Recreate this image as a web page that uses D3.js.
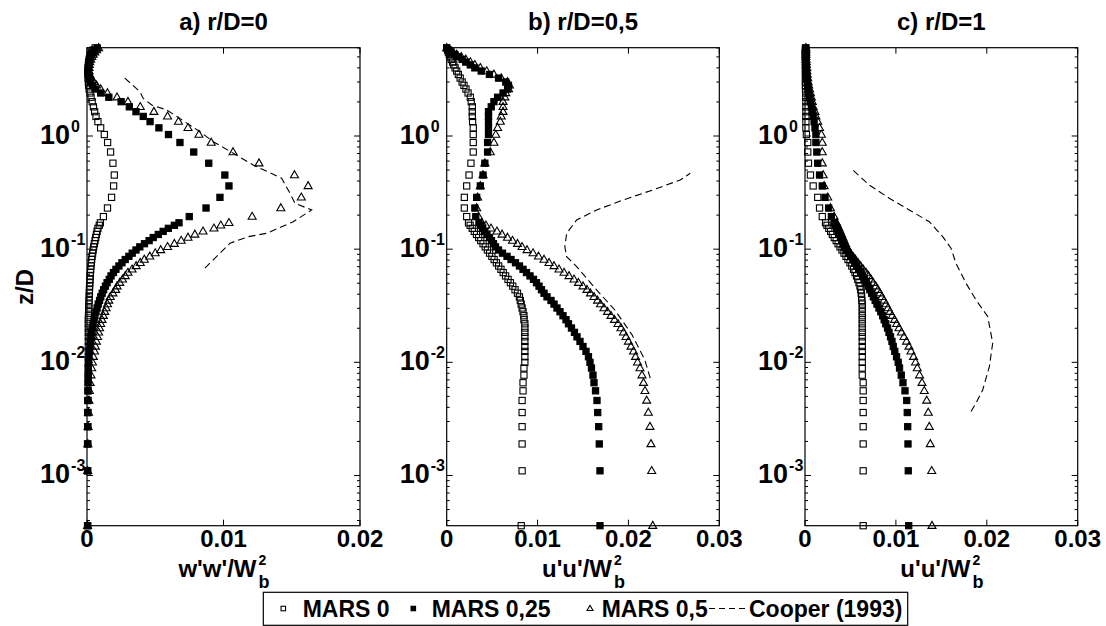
<!DOCTYPE html>
<html><head><meta charset="utf-8">
<script src="https://cdn.jsdelivr.net/npm/d3@7"></script>
<style>
body{margin:0;background:#fff}
svg{display:block}
text{font-family:Arial,"Liberation Sans",Helvetica,sans-serif;font-weight:bold;fill:#000}
</style>
</head><body>
<svg id="chart" width="1106" height="626"></svg>
<script>
// ---------------- DATA ----------------
const panelTitles = ["a) r/D=0", "b) r/D=0,5", "c) r/D=1"];
const xMaxes = [0.02, 0.03, 0.03];
const xTickValues = [[0, 0.01, 0.02], [0, 0.01, 0.02, 0.03], [0, 0.01, 0.02, 0.03]];
const xTickLabels = [["0", "0.01", "0.02"], ["0", "0.01", "0.02", "0.03"], ["0", "0.01", "0.02", "0.03"]];
const xAxisMain = ["w'w'/W", "u'u'/W", "u'u'/W"];
const xAxisSup = "2", xAxisSub = "b";
const yLabel = "z/D";
const yTickExponents = [-3, -2, -1, 0];
const zDomain = [0.00036, 6.03];
const seriesNames = ["MARS 0", "MARS 0,25", "MARS 0,5", "Cooper (1993)"];

// grid levels z/D shared by all MARS profiles (bottom to top)
const zLevels = [0.00036,0.0011,0.0019,0.0027,0.0036,0.0046,0.0056,0.0066,0.0077,0.0089,
0.0100,0.0112,0.0125,0.0138,0.0153,0.0168,0.0184,0.0201,0.0219,0.0238,
0.0258,0.0280,0.0302,0.0327,0.0352,0.0379,0.0408,0.0438,0.0471,0.0505,
0.0541,0.0580,0.0621,0.0664,0.0710,0.0758,0.0810,0.0864,0.0922,0.0983,
0.1048,0.1117,0.1190,0.1267,0.1349,0.1436,0.1528,0.1625,0.171,0.194,
0.231,0.287,0.362,0.452,0.575,0.722,0.876,1.03,1.18,1.34,
1.49,1.64,1.81,2.01,2.2,2.4,2.6,2.8,3.0,3.25,
3.5,3.75,4.0,4.25,4.5,4.75,5.0,5.25,5.5,5.75,
6.0];

// panel a: w'w'/Wb^2 at r/D=0
const a_mars0 = [0.00005,0.00005,0.00006,0.00006,0.00007,0.00007,0.00008,0.00008,0.00008,0.00009,
0.00009,0.0001,0.0001,0.0001,0.0001,0.0001,0.0001,0.0001,0.0001,0.0001,
0.00011,0.00012,0.00013,0.00014,0.00015,0.00016,0.00017,0.00018,0.00019,0.00021,
0.00022,0.00023,0.00025,0.00027,0.00029,0.00032,0.00034,0.00037,0.00041,0.00045,
0.00049,0.00054,0.00059,0.00064,0.00069,0.00074,0.0008,0.0009,0.00098,0.0012,
0.0015,0.0018,0.00195,0.002,0.0019,0.00173,0.00151,0.00127,0.001,0.0008,
0.00066,0.00056,0.00047,0.00038,0.0003,0.00022,0.00016,0.00012,0.0001,0.00008,
0.00007,0.00007,0.00008,0.0001,0.00012,0.00016,0.0002,0.00026,0.00034,0.00045,
0.0006];
const a_mars025 = [0.00004,0.00004,0.00004,0.00005,0.00005,0.00006,0.00007,0.00008,0.00009,0.0001,
0.00012,0.00015,0.00019,0.00022,0.00026,0.00029,0.00034,0.00039,0.00045,0.00052,
0.00058,0.00066,0.00074,0.00082,0.00092,0.00101,0.00111,0.00122,0.00135,0.00147,
0.00163,0.00176,0.00194,0.00212,0.00234,0.00256,0.0028,0.00307,0.00331,0.00359,
0.00387,0.00421,0.00455,0.00485,0.00522,0.00558,0.00596,0.0064,0.00674,0.00749,
0.00872,0.00974,0.0104,0.0101,0.00892,0.00782,0.00681,0.00597,0.00527,0.00462,
0.00412,0.00359,0.0031,0.0025,0.0016,0.001,0.0006,0.0004,0.00025,0.00015,
0.0001,0.0001,0.0001,0.00012,0.00015,0.0002,0.00027,0.00035,0.00045,0.00058,
0.00075];
const a_mars05 = [0.00004,0.00005,0.00006,0.00008,0.00011,0.00014,0.00018,0.00023,0.00029,0.00034,
0.0004,0.00047,0.00055,0.00062,0.00069,0.00077,0.00085,0.00092,0.001,0.0011,
0.0012,0.0013,0.0014,0.0015,0.0016,0.0017,0.0019,0.0021,0.0022,0.0024,
0.0026,0.0028,0.003,0.0033,0.0036,0.0039,0.0042,0.0046,0.005,0.0054,
0.0059,0.0064,0.0069,0.0074,0.0079,0.0085,0.0093,0.0098,0.0104,0.0121,
0.0142,0.0157,0.0162,0.0152,0.0126,0.0107,0.0091,0.0082,0.0074,0.0067,
0.0059,0.0049,0.0039,0.003,0.0022,0.0015,0.001,0.0007,0.0005,0.0003,
0.0002,0.00015,0.00015,0.00017,0.0002,0.00027,0.00035,0.00045,0.00057,0.0007,
0.00085];
const a_cooperZ = [0.068,0.092,0.113,0.129,0.138,0.175,0.222,0.254,0.312,0.423,0.554,0.703,0.891,1.09,1.70,1.88,2.15,2.46,3.34];
const a_cooperV = [0.00864,0.00974,0.01048,0.01182,0.01316,0.01511,0.01646,0.01524,0.01487,0.01426,0.01218,0.01072,0.00925,0.00828,0.00584,0.00474,0.00412,0.00388,0.00266];

// panel b: u'u'/Wb^2 at r/D=0,5
const b_mars0 = [0.0082,0.0083,0.0083,0.0083,0.0083,0.0083,0.0084,0.0084,0.0085,0.0085,
0.0086,0.0086,0.0086,0.0086,0.0086,0.0086,0.0086,0.0086,0.0086,0.0085,
0.0085,0.0084,0.0083,0.0082,0.0081,0.008,0.00779,0.00752,0.00727,0.00701,
0.00675,0.00648,0.00622,0.00597,0.00572,0.00547,0.00522,0.00497,0.00472,0.00448,
0.00424,0.004,0.00375,0.00352,0.00328,0.00304,0.00281,0.00258,0.0024,0.0022,
0.00194,0.00194,0.0022,0.00246,0.00267,0.00292,0.00292,0.00292,0.00292,0.00285,
0.00282,0.00282,0.00282,0.0027,0.0026,0.00235,0.00212,0.0019,0.0017,0.00148,
0.00128,0.0011,0.00092,0.00078,0.00065,0.0005,0.0004,0.00028,0.00018,0.0001,
0];
const b_mars025 = [0.01687,0.01687,0.01679,0.01673,0.01662,0.01654,0.01638,0.01621,0.0161,0.01593,
0.01577,0.0156,0.01533,0.015,0.01467,0.01434,0.01406,0.01373,0.0134,0.01313,
0.0128,0.01247,0.01214,0.01181,0.01148,0.01104,0.01071,0.01043,0.01016,0.00988,
0.00955,0.00917,0.00878,0.0084,0.00801,0.00757,0.00708,0.00664,0.00614,0.0057,
0.00537,0.00515,0.00493,0.00471,0.00443,0.00416,0.00394,0.00372,0.00355,0.0032,
0.0031,0.0033,0.0037,0.004,0.0042,0.0045,0.0045,0.0046,0.0046,0.0046,
0.0046,0.0046,0.0049,0.0052,0.0056,0.0062,0.0067,0.0068,0.0065,0.0057,
0.0047,0.0038,0.0031,0.0026,0.0021,0.0017,0.0013,0.0009,0.0005,0.0002,
0];
const b_mars05 = [0.02267,0.02256,0.02248,0.02237,0.02219,0.02201,0.02182,0.02166,0.02149,0.02127,
0.021,0.02078,0.02056,0.02028,0.02,0.01973,0.01946,0.01918,0.01885,0.01847,
0.01808,0.0177,0.01731,0.01693,0.0166,0.01621,0.01582,0.01544,0.015,0.0145,
0.01401,0.01346,0.01291,0.01236,0.01181,0.01126,0.01071,0.0101,0.0095,0.00884,
0.00829,0.00779,0.00724,0.00669,0.00609,0.00553,0.00487,0.00432,0.00388,0.0035,
0.0033,0.0034,0.0037,0.004,0.0042,0.0048,0.0052,0.0054,0.0056,0.0059,
0.006,0.0062,0.0062,0.0062,0.0064,0.0065,0.0068,0.0069,0.0067,0.006,
0.0052,0.0044,0.0037,0.0031,0.0026,0.0021,0.0016,0.0011,0.0007,0.0003,
0];
const b_cooperZ = [0.00724,0.0105,0.0175,0.029,0.0436,0.0553,0.070,0.0859,0.105,0.138,0.181,0.222,0.272,0.334,0.409,0.468];
const b_cooperV = [0.0224,0.0218,0.0204,0.0185,0.0165,0.0154,0.0143,0.0132,0.0130,0.0132,0.0143,0.0165,0.0194,0.0227,0.0257,0.0268];

// panel c: u'u'/Wb^2 at r/D=1
const c_mars0 = [0.0064,0.0064,0.0064,0.0064,0.0064,0.0064,0.0064,0.0064,0.0063,0.0063,
0.0063,0.0063,0.0063,0.0063,0.0063,0.0063,0.0063,0.0063,0.0063,0.0063,
0.0063,0.0063,0.0063,0.0063,0.00625,0.00623,0.00619,0.00614,0.00605,0.00594,
0.00581,0.00567,0.0055,0.00534,0.00515,0.00495,0.00473,0.00451,0.00429,0.00407,
0.00385,0.00364,0.00343,0.00322,0.00301,0.00282,0.00262,0.00242,0.00226,0.0019,
0.0016,0.0014,0.0009,0.0006,0.00038,0.0003,0.0003,0.00015,0.0001,0.0001,
0.0001,0.0001,0.0001,0.0001,0.00008,0.00007,0.00006,0.00005,0.00005,0.00005,
0.00005,0.00005,0.00005,0.00005,0.00005,0.00005,0.00005,0.00005,0.00005,0.00005,
0.00005];
const c_mars025 = [0.01141,0.01136,0.01133,0.0113,0.01125,0.01119,0.011,0.01078,0.01059,0.0104,
0.01025,0.01007,0.00988,0.00971,0.00957,0.00941,0.00924,0.00908,0.00889,0.00871,
0.00854,0.00834,0.00814,0.00792,0.00772,0.00752,0.00733,0.00713,0.00693,0.00674,
0.00655,0.00633,0.00612,0.0059,0.00569,0.00548,0.00526,0.00502,0.00476,0.00451,
0.0043,0.00418,0.00406,0.00394,0.00378,0.00363,0.00348,0.00332,0.0032,0.0029,
0.0026,0.0022,0.0019,0.0016,0.0014,0.0013,0.0012,0.0012,0.0011,0.001,
0.0009,0.0008,0.0007,0.0006,0.0005,0.0004,0.00035,0.0003,0.00025,0.0002,
0.0002,0.00015,0.00015,0.00012,0.0001,0.0001,0.0001,0.0001,0.0001,0.0001,
0.0001];
const c_mars05 = [0.01397,0.01394,0.01378,0.01367,0.01356,0.01339,0.01312,0.01287,0.0126,0.01235,
0.01216,0.01194,0.01166,0.01144,0.01117,0.01089,0.01061,0.01034,0.01009,0.00985,
0.00959,0.00935,0.00913,0.00891,0.00869,0.00847,0.00825,0.00803,0.00777,0.00751,
0.00726,0.00699,0.00671,0.0064,0.00612,0.00583,0.00554,0.00525,0.005,0.00473,
0.0046,0.00446,0.00431,0.00417,0.00403,0.00388,0.00374,0.00359,0.00347,0.0032,
0.0028,0.0025,0.0021,0.002,0.0019,0.0019,0.0019,0.0018,0.0016,0.0014,
0.0012,0.0011,0.0009,0.0008,0.0007,0.0006,0.0005,0.0004,0.00035,0.0003,
0.00025,0.0002,0.0002,0.00015,0.00015,0.00012,0.0001,0.0001,0.0001,0.0001,
0.0001];
const c_cooperZ = [0.00367,0.00435,0.0057,0.00917,0.0148,0.0254,0.0356,0.050,0.075,0.102,0.129,0.175,0.222,0.282,0.369,0.501];
const c_cooperV = [0.01826,0.01881,0.01955,0.02028,0.02065,0.0201,0.01881,0.01771,0.01661,0.01606,0.01515,0.01367,0.01147,0.00927,0.00707,0.00525];

// ---------------- LAYOUT ----------------
const W = 1106, H = 626;
const plotTop = 47.7, plotBottom = 525.7;
const panelX = [[87, 360], [446.7, 719.3], [805, 1077.7]];

const panels = [
  {title: panelTitles[0], xMax: xMaxes[0], ticks: xTickValues[0], labels: xTickLabels[0], main: xAxisMain[0],
   series: [a_mars0, a_mars025, a_mars05], cz: a_cooperZ, cv: a_cooperV},
  {title: panelTitles[1], xMax: xMaxes[1], ticks: xTickValues[1], labels: xTickLabels[1], main: xAxisMain[1],
   series: [b_mars0, b_mars025, b_mars05], cz: b_cooperZ, cv: b_cooperV},
  {title: panelTitles[2], xMax: xMaxes[2], ticks: xTickValues[2], labels: xTickLabels[2], main: xAxisMain[2],
   series: [c_mars0, c_mars025, c_mars05], cz: c_cooperZ, cv: c_cooperV}
];

const svg = d3.select("#chart");
svg.append("rect").attr("width", W).attr("height", H).attr("fill", "#fff");

const y = d3.scaleLog().domain(zDomain).range([plotBottom, plotTop]);
const triPath = "M0,-4.2L3.9,2.6L-3.9,2.6Z";

function drawMarker(g, kind, cx, cy, s) {
  if (kind === 0 || kind === 1) {
    g.append("rect").attr("x", cx - s / 2).attr("y", cy - s / 2).attr("width", s).attr("height", s)
      .attr("fill", kind === 1 ? "#000" : "none").attr("stroke", "#000").attr("stroke-width", 1.1);
  } else {
    const k = s / 7.8;
    g.append("path").attr("d", triPath).attr("transform", `translate(${cx},${cy}) scale(${k})`)
      .attr("fill", "none").attr("stroke", "#000").attr("stroke-width", 1.1 / k);
  }
}

panels.forEach((p, pi) => {
  const [x0, x1] = panelX[pi];
  const x = d3.scaleLinear().domain([0, p.xMax]).range([x0, x1]);
  const g = svg.append("g");

  // frame
  g.append("rect").attr("x", x0).attr("y", plotTop).attr("width", x1 - x0).attr("height", plotBottom - plotTop)
    .attr("fill", "none").attr("stroke", "#000").attr("stroke-width", 1.2);

  // x ticks (inward, bottom + top)
  p.ticks.forEach(t => {
    const xx = x(t);
    g.append("line").attr("x1", xx).attr("x2", xx).attr("y1", plotBottom).attr("y2", plotBottom - 6).attr("stroke", "#000");
    g.append("line").attr("x1", xx).attr("x2", xx).attr("y1", plotTop).attr("y2", plotTop + 6).attr("stroke", "#000");
  });
  p.ticks.forEach((t, i) => {
    g.append("text").attr("x", x(t)).attr("y", 547).attr("text-anchor", "middle")
      .attr("font-size", 24).text(p.labels[i]);
  });

  // y ticks (log, inward, left + right)
  y.ticks().forEach(t => {
    const e = Math.log10(t);
    const major = Math.abs(e - Math.round(e)) < 1e-9;
    const len = major ? 6 : 3;
    const yy = y(t);
    g.append("line").attr("x1", x0).attr("x2", x0 + len).attr("y1", yy).attr("y2", yy).attr("stroke", "#000");
    g.append("line").attr("x1", x1).attr("x2", x1 - len).attr("y1", yy).attr("y2", yy).attr("stroke", "#000");
  });
  yTickExponents.forEach(e => {
    const t = g.append("text").attr("x", x0 - 47).attr("y", y(Math.pow(10, e)) + 8).attr("font-size", 27);
    t.append("tspan").text("10");
    t.append("tspan").attr("dx", 1).attr("dy", -12).attr("font-size", 16).text(String(e));
  });

  // title
  g.append("text").attr("x", (x0 + x1) / 2).attr("y", 30).attr("text-anchor", "middle")
    .attr("font-size", 24).text(p.title);

  // x axis label with stacked super/subscript
  const cx = (x0 + x1) / 2;
  const mainT = g.append("text").attr("y", 577).attr("font-size", 24).text(p.main);
  const mw = mainT.node().getComputedTextLength();
  const sw = 10;
  const start = cx - (mw + 2 + sw) / 2;
  mainT.attr("x", start);
  g.append("text").attr("x", start + mw + 2).attr("y", 565).attr("font-size", 14).text(xAxisSup);
  g.append("text").attr("x", start + mw + 2).attr("y", 588).attr("font-size", 18).text(xAxisSub);

  // MARS series markers
  const sizes = [6.2, 6.2, 8];
  p.series.forEach((vals, si) => {
    const sg = g.append("g");
    vals.forEach((v, i) => drawMarker(sg, si, x(v), y(zLevels[i]), sizes[si]));
  });

  // Cooper (1993) dashed line
  const line = d3.line().x(d => x(d[0])).y(d => y(d[1]));
  g.append("path").datum(p.cv.map((v, i) => [v, p.cz[i]]))
    .attr("d", line).attr("fill", "none").attr("stroke", "#000").attr("stroke-width", 1.1)
    .attr("stroke-dasharray", "7,4");
});

// y axis title
svg.append("text").attr("transform", "translate(33,287) rotate(-90)").attr("text-anchor", "middle")
  .attr("font-size", 24).text(yLabel);

// legend
const lg = svg.append("g");
lg.append("rect").attr("x", 263.3).attr("y", 592.3).attr("width", 644.4).attr("height", 33)
  .attr("fill", "#fff").attr("stroke", "#000").attr("stroke-width", 1.2);
const legMarkX = [283.3, 413.3, 590];
const legTextX = [302.7, 431.7, 601.7];
[0, 1, 2].forEach(i => {
  drawMarker(lg, i, legMarkX[i], 608.5, i === 2 ? 6 : 4.5);
  lg.append("text").attr("x", legTextX[i]).attr("y", 617).attr("font-size", 23).text(seriesNames[i]);
});
lg.append("line").attr("x1", 709).attr("x2", 746).attr("y1", 608.5).attr("y2", 608.5)
  .attr("stroke", "#000").attr("stroke-width", 1.1).attr("stroke-dasharray", "6,4");
lg.append("text").attr("x", 749).attr("y", 617).attr("font-size", 23).text(seriesNames[3]);
</script>
</body></html>
